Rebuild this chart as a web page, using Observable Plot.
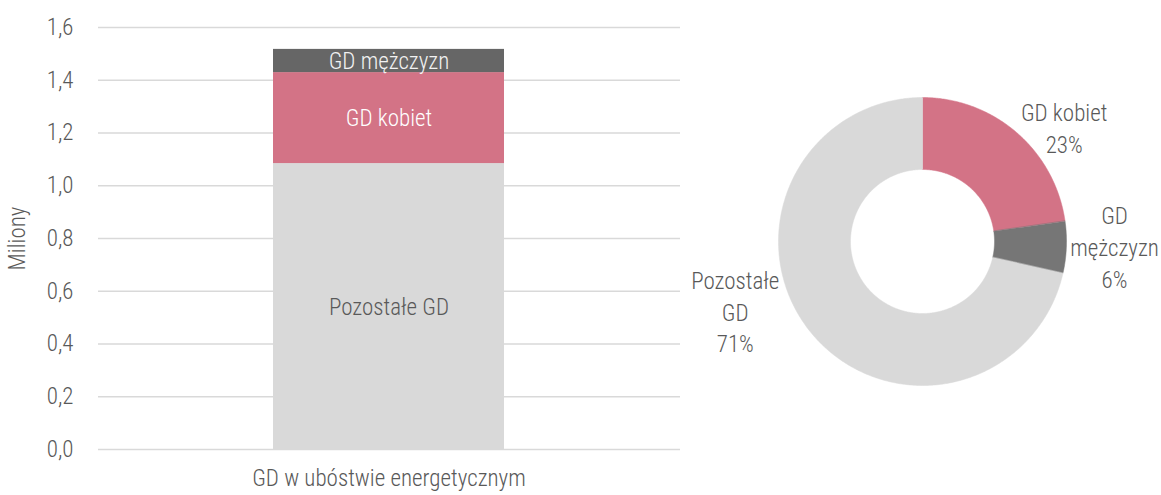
<!DOCTYPE html>
<html><head><meta charset="utf-8">
<script src="https://cdn.jsdelivr.net/npm/d3@7"></script>
<script src="https://cdn.jsdelivr.net/npm/@observablehq/plot@0.6"></script>
<style>
body{margin:0;background:#fff;}
#wrap{position:relative;width:1161px;height:495px;overflow:hidden;background:#fff;}
#left{position:absolute;left:0;top:0;}
#right{position:absolute;left:700px;top:0;}
</style></head>
<body><div id="wrap"><div id="left"></div><div id="right"></div></div>
<script>
// ---- data ----
const groupLabel = "GD w ubóstwie energetycznym";
const categories = ["Pozostałe GD", "GD kobiet", "GD mężczyzn"];
const values = [1.084, 0.345, 0.088];            // millions
const barColors = ["#d9d9d9", "#d37386", "#666666"];
const donutColors = ["#d9d9d9", "#d37386", "#767676"];
const barLabelColors = ["#595959", "#ffffff", "#f2f2f2"];
const donutNames = ["Pozostałe\nGD", "GD kobiet", "GD\nmężczyzn"];
const donutOrder = [1, 2, 0];                      // clockwise from 12 o'clock
const yTicks = [0, 0.2, 0.4, 0.6, 0.8, 1.0, 1.2, 1.4, 1.6];
const yLabel = "Miliony";

const font = "'Roboto Condensed', Roboto, sans-serif";
const fs = 23;

// ---- left: stacked bar ----
const barData = categories.map((c, i) => ({group: groupLabel, cat: c, value: values[i], color: barColors[i], tcol: barLabelColors[i]}));
const fmt = d => d.toFixed(1).replace(".", ",");

const left = Plot.plot({
  width: 700, height: 495,
  marginLeft: 98, marginRight: 20, marginTop: 27, marginBottom: 46,
  style: {fontFamily: font, fontWeight: 300, fontSize: fs + "px", color: "#595959", background: "transparent"},
  x: {domain: [groupLabel], padding: 0.43, label: null, tickSize: 0, tickPadding: 20},
  y: {domain: [0, 1.6], ticks: yTicks, tickFormat: fmt, tickSize: 0, tickPadding: 25,
      label: yLabel, labelAnchor: "center", labelArrow: "none", labelOffset: 90},
  color: {type: "identity"},
  marks: [
    Plot.gridY(yTicks, {stroke: "#d9d9d9", strokeOpacity: 1, strokeWidth: 1.5}),
    Plot.barY(barData, {x: "group", y: "value", fill: "color", order: null}),
    Plot.text(barData, Plot.stackY({x: "group", y: "value", text: "cat", fill: "tcol", order: null, fontSize: fs, dy: 1}))
  ]
});
document.getElementById("left").appendChild(left);

// ---- right: donut ----
const total = d3.sum(values);
const ordered = donutOrder.map(i => ({i, value: values[i]}));
let acc = 0;
const slices = ordered.map(d => {
  const a0 = acc / total * 2 * Math.PI;
  acc += d.value;
  const a1 = acc / total * 2 * Math.PI;
  return {...d, a0, a1};
});
const rOut = 1, rIn = 0.5;
const polyPts = [];
for (const s of slices) {
  const n = Math.max(4, Math.ceil((s.a1 - s.a0) / (Math.PI / 360)));
  for (let k = 0; k <= n; k++) {
    const a = s.a0 + (s.a1 - s.a0) * k / n;
    polyPts.push({k: s.i, x: rOut * Math.sin(a), y: rOut * Math.cos(a), color: donutColors[s.i]});
  }
  for (let k = n; k >= 0; k--) {
    const a = s.a0 + (s.a1 - s.a0) * k / n;
    polyPts.push({k: s.i, x: rIn * Math.sin(a), y: rIn * Math.cos(a), color: donutColors[s.i]});
  }
}
const labelR = 1.3;
const labels = slices.map(s => {
  const m = (s.a0 + s.a1) / 2;
  return {i: s.i, x: labelR * Math.sin(m), y: labelR * Math.cos(m),
          text: donutNames[s.i] + "\n" + Math.round(s.value / total * 100) + "%"};
});
const lab = (idx, dx, dy) => Plot.text(labels.filter(d => d.i === idx),
  {x: "x", y: "y", text: "text", dx, dy, lineAnchor: "middle", lineHeight: 1.38, fill: "#595959", fontSize: fs});

const right = Plot.plot({
  width: 461, height: 495, margin: 0,
  style: {fontFamily: font, fontWeight: 300, fontSize: fs + "px", color: "#595959", background: "transparent", overflow: "visible"},
  x: {domain: [-222 / 144, 239 / 144], axis: null},
  y: {domain: [-254 / 144, 241 / 144], axis: null},
  color: {type: "identity"},
  marks: [
    Plot.line(polyPts, {x: "x", y: "y", z: "k", fill: "color", stroke: "color", strokeWidth: 0.5, curve: "linear-closed"}),
    lab(1, 19, 27),
    lab(2, 5, -3),
    lab(0, -41, -48)
  ]
});
document.getElementById("right").appendChild(right);
</script>
</body></html>
